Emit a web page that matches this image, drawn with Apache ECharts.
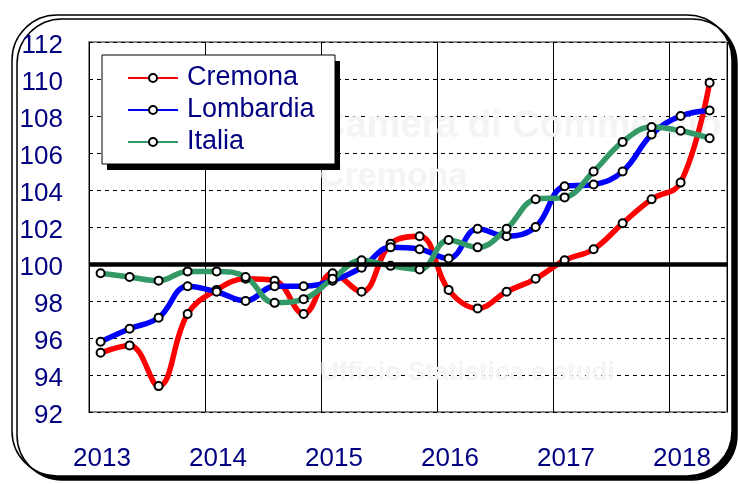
<!DOCTYPE html>
<html>
<head>
<meta charset="utf-8">
<script src="https://cdn.jsdelivr.net/npm/echarts@6/dist/echarts.min.js"></script>
<style>
html,body{margin:0;padding:0;background:#fff;}
#chart{width:738px;height:484px;}
</style>
</head>
<body>
<div id="chart"></div>
<script>
// Quarterly periods (year, quarter)
const quarters = [
  '2013-1','2013-2','2013-3','2013-4',
  '2014-1','2014-2','2014-3','2014-4',
  '2015-1','2015-2','2015-3','2015-4',
  '2016-1','2016-2','2016-3','2016-4',
  '2017-1','2017-2','2017-3','2017-4',
  '2018-1','2018-2'
];
const cremona = [
  95.2, 95.6, 93.4, 97.3,
  98.6, 99.2, 99.1, 97.3,
  99.5, 98.5, 101.1, 101.5,
  98.6, 97.6, 98.5, 99.2,
  100.2, 100.8, 102.2, 103.5,
  104.4, 109.8
];
const lombardia = [
  95.8, 96.5, 97.1, 98.8,
  98.5, 98.0, 98.8, 98.8,
  99.1, 99.8, 100.9, 100.8,
  100.3, 101.9, 101.5, 102.0,
  104.2, 104.3, 105.0, 107.0,
  108.0, 108.3
];
const italia = [
  99.5, 99.3, 99.1, 99.6,
  99.6, 99.3, 97.9, 98.1,
  99.2, 100.2, 99.9, 99.7,
  101.3, 100.9, 101.9, 103.5,
  103.6, 105.0, 106.6, 107.4,
  107.2, 106.8
];
const seriesNames = ['Cremona', 'Lombardia', 'Italia'];
const seriesColors = ['#ff0000', '#0000ff', '#339966'];
const yTicks = { min: 92, max: 112, step: 2 };
const xYears = { min: 2013, max: 2018.5, step: 1 };
const baseline = 100;

function qx(q) {
  const [y, n] = q.split('-').map(Number);
  return y + 0.1 + (n - 1) * 0.25;
}
function pairs(vals) { return vals.map((v, i) => [qx(quarters[i]), v]); }

const chart = echarts.init(document.getElementById('chart'));
const FONT = '"Liberation Sans", Arial, sans-serif';
const NAVY = '#000080';

const lineSeries = [cremona, lombardia, italia].map((vals, i) => ({
  name: seriesNames[i],
  type: 'line',
  data: pairs(vals),
  smooth: 0.4,
  z: 3,
  symbol: 'circle',
  symbolSize: 8,
  lineStyle: { color: seriesColors[i], width: 5.5 },
  itemStyle: { color: '#ffffff', borderColor: '#000000', borderWidth: 2 },
  emphasis: { disabled: true }
}));

chart.setOption({
  animation: false,
  backgroundColor: '#ffffff',
  graphic: [
    {
      type: 'rect', z: -10,
      shape: { x: 12, y: 15, width: 720, height: 461, r: 45 },
      style: { fill: '#ffffff', stroke: '#000000', lineWidth: 1.5,
               shadowColor: '#000000', shadowOffsetX: 5, shadowOffsetY: 4, shadowBlur: 0 }
    },
    {
      type: 'text', z: 1, left: 318, top: 108,
      style: { text: 'Camera di Commercio', font: 'bold 38px "Liberation Sans", sans-serif', fill: '#f4f4f4' }
    },
    {
      type: 'text', z: 1, left: 320, top: 160,
      style: { text: 'Cremona', font: 'bold 34px "Liberation Sans", sans-serif', fill: '#f4f4f4' }
    },
    {
      type: 'text', z: 1, left: 320, top: 360,
      style: { text: 'Ufficio Statistica e studi', font: 'bold 26px "Liberation Sans", sans-serif', fill: '#f4f4f4' }
    },
    {
      type: 'rect', z: 4,
      shape: { x: 107, y: 61, width: 233, height: 109 },
      style: { fill: '#000000' }
    },
    {
      type: 'rect', z: 4,
      shape: { x: 102, y: 55, width: 233, height: 109 },
      style: { fill: '#ffffff', stroke: '#000000', lineWidth: 1 }
    }
  ],
  grid: {
    left: 89, top: 42, right: 11, bottom: 72,
    show: true, backgroundColor: '#ffffff', borderColor: '#8c8c8c', borderWidth: 2
  },
  legend: {
    z: 6,
    data: seriesNames,
    orient: 'vertical',
    left: 102, top: 55,
    padding: [8, 14, 7, 25],
    itemGap: 2,
    itemWidth: 50, itemHeight: 10,
    textStyle: { fontFamily: FONT, fontSize: 27, color: NAVY, lineHeight: 30, padding: [0, 0, 0, 4] },
    selectedMode: false
  },
  xAxis: {
    type: 'value',
    min: xYears.min, max: xYears.max, interval: xYears.step,
    axisLine: { show: false },
    axisTick: { show: false },
    splitLine: { show: true, lineStyle: { color: '#000000', width: 1, type: 'solid' } },
    axisLabel: {
      fontFamily: FONT, fontSize: 26, color: NAVY, margin: 34,
      padding: [0, 0, 0, 26],
      formatter: v => (Number.isInteger(v) ? String(v) : '')
    }
  },
  yAxis: {
    type: 'value',
    min: yTicks.min, max: yTicks.max, interval: yTicks.step,
    axisLine: { show: false },
    axisTick: { show: false },
    splitLine: { show: true, lineStyle: { color: '#000000', width: 1, type: [4, 4] } },
    axisLabel: {
      fontFamily: FONT, fontSize: 26, color: NAVY, margin: 26,
      verticalAlign: 'top', lineHeight: 8
    }
  },
  series: [
    {
      type: 'line', data: [], z: 2, silent: true,
      markLine: {
        silent: true, symbol: 'none', label: { show: false },
        lineStyle: { color: '#000000', width: 4.5, type: 'solid' },
        data: [{ yAxis: baseline }]
      }
    }
  ].concat(lineSeries)
});
</script>
</body>
</html>
